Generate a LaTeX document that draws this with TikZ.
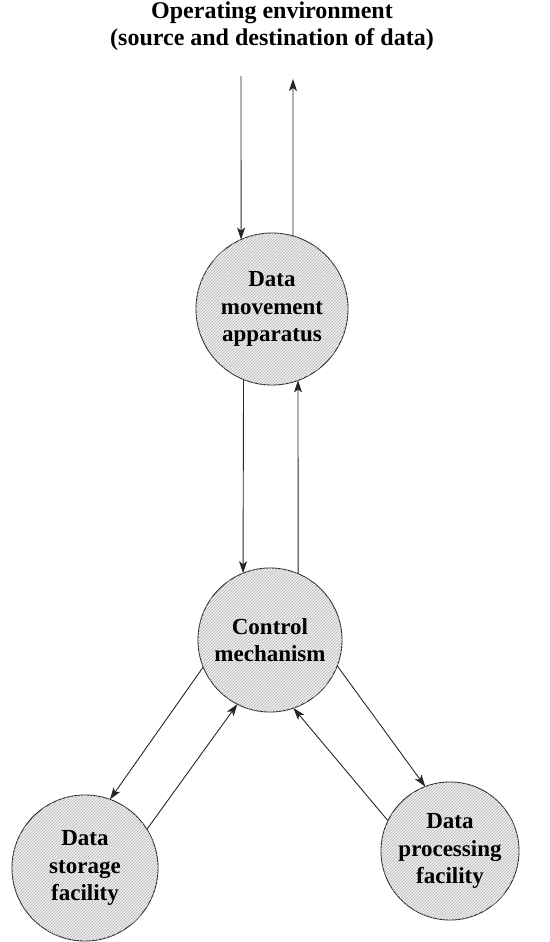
\documentclass[tikz,border=0pt]{standalone}
\usepackage{fontspec}
\setmainfont{Liberation Serif}
\usetikzlibrary{positioning,patterns,arrows.meta}

\begin{document}
\begin{tikzpicture}[x=1pt,y=1pt,
    font=\bfseries\fontsize{23}{27.5}\selectfont,
    unit/.style={draw=black!85, circle, line width=0.9pt, inner sep=0pt, outer sep=0pt, align=center,
        fill=gray!12, postaction={pattern=north east lines, pattern color=gray!60}},
    flow/.style={line width=0.9pt, draw=black!85, -{Stealth[length=12pt,width=8pt,inset=3pt]}}]
    \useasboundingbox (0,0) rectangle (549,-942);

    % Environment
    \node[align=center, font=\bfseries\fontsize{24}{27}\selectfont] (env) at (272,-26) {Operating environment\\(source and destination of data)};
    \coordinate (envin) at (241,-76);
    \coordinate (envout) at (293,-79);

    % Units
    \node[unit, minimum size=152pt] (move) at (272,-309) {Data\\movement\\apparatus};
    \node[unit, minimum size=144pt] (ctrl) at (270,-640) {Control\\mechanism};
    \node[unit, minimum size=146pt] (store) at (85,-868) {Data\\storage\\facility};
    \node[unit, minimum size=138pt] (proc) at (450,-851) {Data\\processing\\facility};

    % Arrows
    \draw[flow] (envin) -- (move.114);
    \draw[flow] (move.74) -- (envout);
    \draw[flow] (move.-112) -- (ctrl.112);
    \draw[flow] (ctrl.67) -- (move.-70);
    \draw[flow] (ctrl.202) -- (store.70);
    \draw[flow] (store.32) -- (ctrl.243);
    \draw[flow] (ctrl.-21) -- (proc.111);
    \draw[flow] (proc.154) -- (ctrl.-71);
\end{tikzpicture}
\end{document}
